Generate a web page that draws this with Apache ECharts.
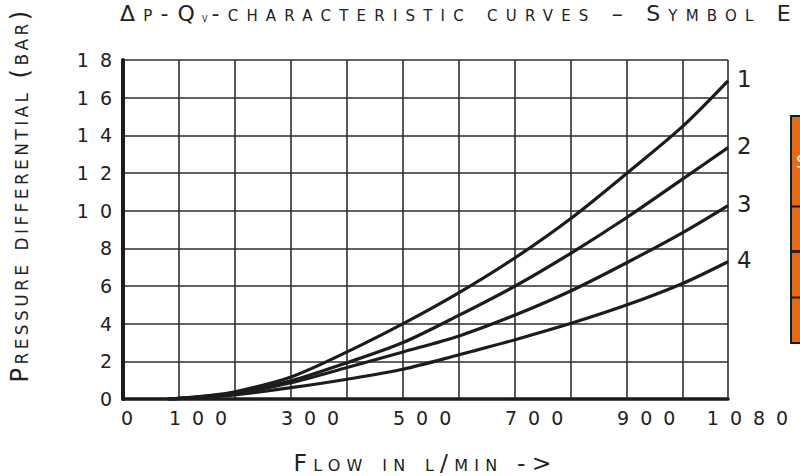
<!DOCTYPE html>
<html>
<head>
<meta charset="utf-8">
<script src="https://cdn.jsdelivr.net/npm/echarts@6/dist/echarts.min.js"></script>
<style>
html,body{margin:0;padding:0;background:#fff;}
#c{width:800px;height:476px;}
#c text{font-variant:small-caps !important;font-variant-caps:small-caps !important;}
#c text[style*="19px"]{letter-spacing:11px;}
#c text[style*="22px"]{letter-spacing:8.2px;}
#c text[style*="23.5px"]{letter-spacing:6.2px;}
#c text[style*="24.2px"]{letter-spacing:3.4px;}
</style>
</head>
<body>
<div id="c"></div>
<script>
// ---- data ----
const flow   = [80, 100, 150, 200, 300, 400, 500, 600, 700, 800, 900, 1000, 1080];
const curve1 = [0, 0.03, 0.17, 0.38, 1.17, 2.5, 4.0, 5.65, 7.5, 9.6, 12.0, 14.5, 16.89];
const curve2 = [0, 0.03, 0.15, 0.32, 0.97, 1.93, 3.0, 4.45, 6.0, 7.75, 9.65, 11.7, 13.35];
const curve3 = [0, 0.03, 0.13, 0.28, 0.87, 1.67, 2.5, 3.35, 4.46, 5.75, 7.25, 8.85, 10.27];
const curve4 = [0, 0.02, 0.1, 0.22, 0.6, 1.05, 1.58, 2.35, 3.15, 4.02, 5.0, 6.15, 7.29];
const curveNames = ['1', '2', '3', '4'];
const xTickLabels = [0, 100, 300, 500, 700, 900, 1080];
const titleMain = 'Δp-Q';
const titleSub = 'v';
const titleRest = '-characteristic curves – Symbol E';
const xName = 'Flow in l/min ->';
const yName = 'Pressure differential (bar)';
const tableHeader = 'S';

const FONT = "'DejaVu Sans'";
const INK = '#1c1c1c';

const chart = echarts.init(document.getElementById('c'), null, {renderer: 'svg'});

const allCurves = [curve1, curve2, curve3, curve4];
const series = allCurves.map((vals, i) => ({
  name: curveNames[i],
  type: 'line',
  data: flow.map((f, j) => [f, vals[j]]),
  showSymbol: false,
  smooth: 0.3,
  lineStyle: {width: 3.2, color: INK},
  itemStyle: {color: INK},
  emphasis: {disabled: true},
  endLabel: {
    show: true,
    formatter: '{a}',
    fontSize: 22.8,
    fontFamily: FONT,
    color: '#222',
    distance: 9,
    offset: [0, -2]
  }
}));

const option = {
  animation: false,
  backgroundColor: '#fff',
  title: {
    text: '{a1|' + titleMain + '}{b|' + titleSub + '}{a|' + titleRest + '}',
    left: 120,
    top: 0,
    padding: 0,
    textStyle: {
      fontWeight: 'normal',
      rich: {
        a1: {fontSize: 22, fontFamily: FONT, fontWeight: 'normal', color: '#222', lineHeight: 26, padding: [0, 27, 0, 0]},
        a: {fontSize: 22, fontFamily: FONT, fontWeight: 'normal', color: '#222', lineHeight: 26},
        b: {fontSize: 11, fontFamily: FONT, fontWeight: 'normal', color: '#222', verticalAlign: 'top', padding: [13, 3, 0, 0]}
      }
    }
  },
  grid: {left: 123, right: 72, top: 60, bottom: 77, containLabel: false, outerBoundsMode: 'none'},
  xAxis: {
    type: 'value',
    min: 0,
    max: 1080,
    interval: 100,
    name: xName,
    nameLocation: 'middle',
    nameGap: 52,
    nameTextStyle: {fontSize: 23.5, fontFamily: FONT, color: '#222'},
    axisLine: {show: true, onZero: false, lineStyle: {color: INK, width: 3.5}},
    axisTick: {show: false},
    splitLine: {show: true, lineStyle: {color: '#2e2e2e', width: 1.6}},
    axisLabel: {
      interval: 0,
      margin: 9,
      showMinLabel: true,
      showMaxLabel: true,
      fontSize: 19,
      fontFamily: FONT,
      color: '#222',
      formatter: function (v) {
        if (xTickLabels.indexOf(v) < 0) return '';
        if (v === 0) return '{z|' + v + '}';
        if (v === 1080) return '{m|' + v + '}';
        return '{n|' + v + '}';
      },
      rich: {
        z: {fontSize: 19, fontFamily: FONT, color: '#222', padding: [0, 0, 0, 19]},
        n: {fontSize: 19, fontFamily: FONT, color: '#222', padding: [0, 0, 0, 49]},
        m: {fontSize: 19, fontFamily: FONT, color: '#222', padding: [0, 0, 0, 50]}
      }
    }
  },
  yAxis: {
    type: 'value',
    min: 0,
    max: 18,
    interval: 2,
    name: yName,
    nameLocation: 'middle',
    nameGap: 91,
    nameTextStyle: {fontSize: 24.2, fontFamily: FONT, color: '#222', padding: [0, 0, 0, 69]},
    axisLine: {show: true, onZero: false, lineStyle: {color: INK, width: 4}},
    axisTick: {show: false},
    splitLine: {show: true, lineStyle: {color: '#2e2e2e', width: 1.6}},
    axisLabel: {margin: 0, fontSize: 19, fontFamily: FONT, color: '#222'}
  },
  graphic: [
    {type: 'rect', shape: {x: 791, y: 116, width: 30, height: 227}, style: {fill: '#E8690F', stroke: '#1a1a1a', lineWidth: 2}, z: 10},
    {type: 'line', shape: {x1: 791, y1: 206.5, x2: 800, y2: 206.5}, style: {stroke: '#1a1a1a', lineWidth: 2}, z: 11},
    {type: 'line', shape: {x1: 791, y1: 251.5, x2: 800, y2: 251.5}, style: {stroke: '#3a1e08', lineWidth: 3}, z: 11},
    {type: 'line', shape: {x1: 791, y1: 297.5, x2: 800, y2: 297.5}, style: {stroke: '#1a1a1a', lineWidth: 2}, z: 11},
    {type: 'text', x: 796, y: 152, style: {text: tableHeader, fontSize: 18, fontFamily: FONT, fill: '#fff'}, z: 12}
  ],
  series: series
};

chart.setOption(option);
</script>
</body>
</html>
